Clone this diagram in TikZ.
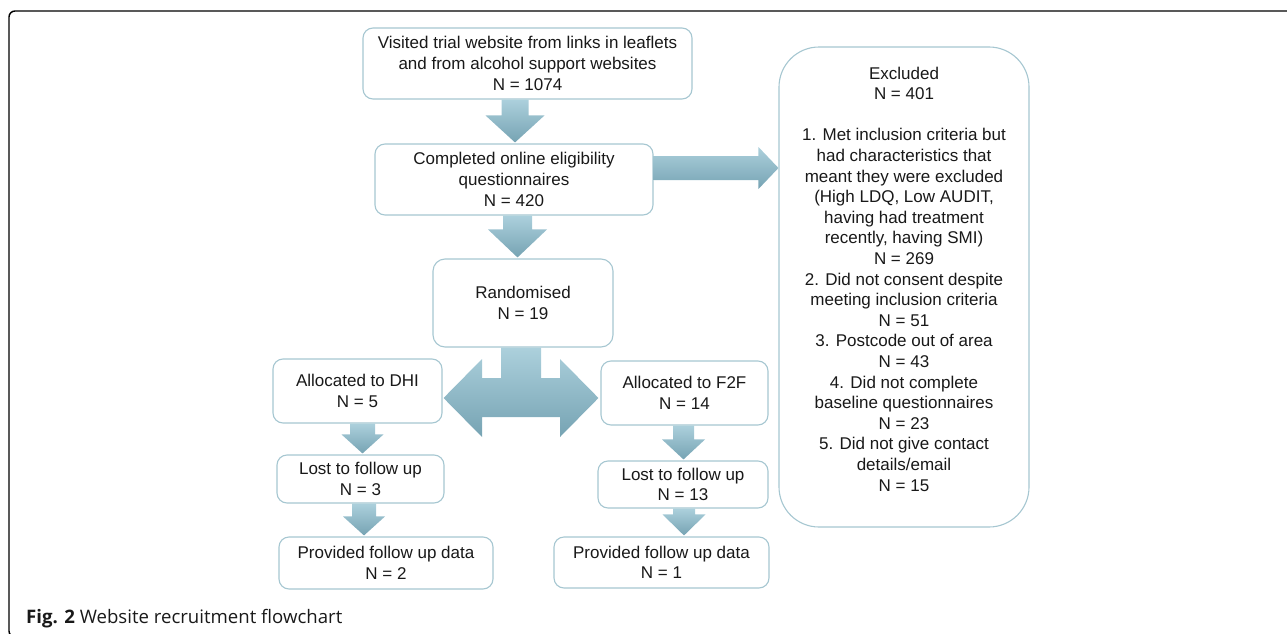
\documentclass[tikz,border=0pt]{standalone}
\usepackage{fontspec}
\setmainfont{Liberation Sans}
\newfontfamily\capfont{Open Sans}
\usetikzlibrary{calc}
\definecolor{boxc}{RGB}{166,199,209}
\definecolor{arrtop}{RGB}{172,208,220}
\definecolor{arrbot}{RGB}{118,163,179}
\definecolor{txt}{RGB}{25,25,25}
\tikzset{
  box/.style={draw=boxc, line width=1.1pt, rounded corners=10pt, fill=white,
    align=center, inner sep=0pt, text=txt, font=\fontsize{17}{20.6}\selectfont},
  plaintext/.style={align=center, inner sep=0pt, text=txt, font=\fontsize{17}{20.6}\selectfont},
  arrowfill/.style={top color=arrtop, bottom color=arrbot, draw=none},
  frame/.style={draw=black, line width=1.4pt, rounded corners=6pt}
}
\newcommand{\dnarrow}[6]{%
  \shade[arrowfill] let \p1=(#2.south), \p2=(#3.north) in
    ({(#1-#4)*1pt},\y1) -- ({(#1+#4)*1pt},\y1) -- ({(#1+#4)*1pt},{\y2+(#6)*1pt})
    -- ({(#1+#5)*1pt},{\y2+(#6)*1pt}) -- ({(#1)*1pt},{\y2+1pt})
    -- ({(#1-#5)*1pt},{\y2+(#6)*1pt}) -- ({(#1-#4)*1pt},{\y2+(#6)*1pt}) -- cycle;}
\begin{document}
\begin{tikzpicture}[x=1pt,y=-1pt]
\useasboundingbox (0,0) rectangle (1287,634);
\begin{scope}
\clip (0,0) rectangle (1287,634);
\draw[frame] (1300,11) -- (9,11) -- (9,637) -- (1300,637);
\end{scope}

% boxes
\node[box, minimum width=329pt, minimum height=71pt] (visited) at (527.5,63.5)
  {Visited trial website from links in leaflets\\and from alcohol support websites\\N = 1074};
\node[box, minimum width=278pt, minimum height=71pt] (completed) at (514,179.5)
  {Completed online eligibility\\questionnaires\\N = 420};
\node[box, rounded corners=12pt, minimum width=180pt, minimum height=88pt] (randomised) at (523,303)
  {Randomised\\N = 19};
\node[box, minimum width=169pt, minimum height=64pt] (dhi) at (357.5,391)
  {Allocated to DHI\\N = 5};
\node[box, minimum width=167pt, minimum height=64pt] (f2f) at (684.5,393)
  {Allocated to F2F\\N = 14};
\node[box, minimum width=167pt, minimum height=48pt] (lost1) at (360.5,479)
  {Lost to follow up\\N = 3};
\node[box, minimum width=170pt, minimum height=47pt] (lost2) at (683,484.5)
  {Lost to follow up\\N = 13};
\node[box, minimum width=214pt, minimum height=52pt] (prov1) at (386,563)
  {Provided follow up data\\N = 2};
\node[box, minimum width=215pt, minimum height=51pt] (prov2) at (661.5,562.5)
  {Provided follow up data\\N = 1};
\node[box, rounded corners=40pt, minimum width=250pt, minimum height=480pt] (excl) at (904,287) {};
\node[plaintext] (excltext) at (904,279)
  {Excluded\\N = 401\\[20.6pt]1. Met inclusion criteria but\\had characteristics that\\meant they were excluded\\(High LDQ, Low AUDIT,\\having had treatment\\recently, having SMI)\\N = 269\\2. Did not consent despite\\meeting inclusion criteria\\N = 51\\3. Postcode out of area\\N = 43\\4. Did not complete\\baseline questionnaires\\N = 23\\5. Did not give contact\\details/email\\N = 15};

% block arrows
\dnarrow{515}{visited}{completed}{13.5}{29.5}{28}
\dnarrow{517.5}{completed}{randomised}{14.5}{29.5}{29}
\dnarrow{362.5}{dhi}{lost1}{12.5}{21}{20}
\dnarrow{364}{lost1}{prov1}{12}{21}{20}
\dnarrow{683.5}{f2f}{lost2}{10.5}{21.5}{21}
\dnarrow{684}{lost2}{prov2}{11}{21.5}{22}

% arrow to excluded
\shade[arrowfill] let \p1=(completed.east), \p2=(excl.west) in
  (\x1,-156pt) -- ({\x2-20pt},-156pt) -- ({\x2-20pt},-147pt) -- (\x2,-168pt)
  -- ({\x2-20pt},-189pt) -- ({\x2-20pt},-180pt) -- (\x1,-180pt) -- cycle;

% double arrow from randomised
\shade[arrowfill] let \p1=(randomised.south), \p2=(dhi.east), \p3=(f2f.west) in
  (501pt,\y1) -- (541pt,\y1) -- (541pt,-378pt) -- (560pt,-378pt) -- (560pt,-359pt)
  -- ({\x3-2pt},-398pt) -- (560pt,-437pt) -- (560pt,-417pt) -- (482pt,-417pt)
  -- (482pt,-437pt) -- ({\x2+1pt},-398pt) -- (482pt,-359pt) -- (482pt,-378pt)
  -- (501pt,-378pt) -- cycle;

% caption
\node[anchor=base west, inner sep=0pt, text=txt, font=\capfont\fontsize{18.6}{22}\selectfont] (caption) at (26,623)
  {\textbf{Fig. 2} Website recruitment flowchart};
\end{tikzpicture}
\end{document}
